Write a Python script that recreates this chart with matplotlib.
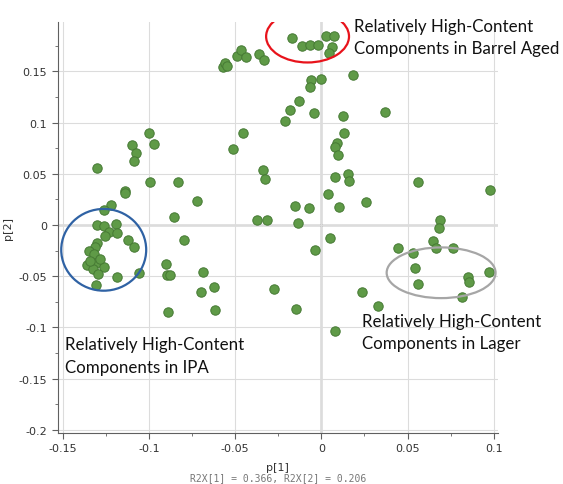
import matplotlib.pyplot as plt
from matplotlib.patches import Ellipse
from matplotlib.ticker import MultipleLocator

# PCA loadings p[1] vs p[2]
p1 = [-0.0173, -0.0114, -0.0066, -0.0017, 0.0027, 0.0075, 0.0061, 0.0045,
      -0.0573, -0.0557, -0.0549, -0.0491, -0.0466, -0.0437, -0.0363, -0.0331,
      0.0181, -0.0003, -0.0060, -0.0066, -0.0128, -0.0182, -0.0213, -0.0045,
      0.0124, 0.0369, 0.0130, 0.0092, 0.0077, 0.0094, 0.0079, 0.0157,
      0.0161, 0.0563, 0.0979, 0.0036, -0.0153, -0.0074, 0.0100, 0.0259,
      -0.0133, 0.0050, -0.0034, -0.0148, -0.0273, 0.0077, 0.0689, 0.0684,
      0.0650, 0.0665, 0.0765, 0.0443, 0.0534, 0.0546, 0.0563, 0.0853,
      0.0857, 0.0974, 0.0814, 0.0234, 0.0326,
      -0.0341, -0.0325, -0.0372, -0.0317, -0.0510, -0.0457, -0.1000, -0.0969,
      -0.1100, -0.1074, -0.1089, -0.1301, -0.0992, -0.0833, -0.1142, -0.1142,
      -0.0724, -0.1220, -0.1263, -0.0854, -0.0799, -0.0686, -0.0696, -0.0625,
      -0.0619, -0.0901, -0.0895, -0.0876, -0.0892, -0.1056, -0.1187,
      -0.1301, -0.1262, -0.1191, -0.1233, -0.1185, -0.1253, -0.1121, -0.1086,
      -0.1301, -0.1314, -0.1350, -0.1321, -0.1359, -0.1309, -0.1326, -0.1259,
      -0.1295, -0.1305, -0.1284, -0.1342]
p2 = [0.1823, 0.1750, 0.1758, 0.1758, 0.1841, 0.1841, 0.1741, 0.1683,
      0.1538, 0.1579, 0.1556, 0.1650, 0.1709, 0.1636, 0.1665, 0.1611,
      0.1460, 0.1429, 0.1413, 0.1343, 0.1206, 0.1125, 0.1011, 0.1094,
      0.1069, 0.1104, 0.0894, 0.0799, 0.0759, 0.0688, 0.0469, 0.0503,
      0.0430, 0.0420, 0.0342, 0.0303, 0.0184, 0.0166, 0.0176, 0.0223,
      0.0018, -0.0130, -0.0242, -0.0823, -0.0625, -0.1032, 0.0054, -0.0032,
      -0.0159, -0.0229, -0.0229, -0.0225, -0.0270, -0.0418, -0.0576, -0.0508,
      -0.0552, -0.0456, -0.0706, -0.0649, -0.0788,
      0.0539, 0.0451, 0.0052, 0.0052, 0.0742, 0.0903, 0.0895, 0.0793,
      0.0784, 0.0703, 0.0627, 0.0559, 0.0418, 0.0418, 0.0329, 0.0313,
      0.0232, 0.0193, 0.0149, 0.0078, -0.0148, -0.0456, -0.0649, -0.0603,
      -0.0825, -0.0381, -0.0491, -0.0483, -0.0853, -0.0471, -0.0511,
      0.0003, -0.0005, 0.0010, -0.0071, -0.0073, -0.0103, -0.0142, -0.0215,
      -0.0171, -0.0212, -0.0249, -0.0283, -0.0391, -0.0368, -0.0430, -0.0413,
      -0.0479, -0.0584, -0.0332, -0.0352]

# group highlight ellipses: (center x, center y, width, height, colour)
groups = [(-0.0080, 0.1841, 0.0481, 0.0508, "#e8131b"),
          (-0.1263, -0.0242, 0.0493, 0.0798, "#2f62a4"),
          (0.0695, -0.0466, 0.0632, 0.0495, "#a6a6a6")]
labels = ["Relatively High-Content\nComponents in Barrel Aged",
          "Relatively High-Content\nComponents in IPA",
          "Relatively High-Content\nComponents in Lager"]
label_pos = [(0.019, 0.2025), (-0.1485, -0.1085), (0.0235, -0.0855)]

fig = plt.figure(figsize=(5.63, 4.85), dpi=100)
ax = fig.add_axes([0.1025, 0.1052, 0.782, 0.848])

ax.grid(True, color="#dcdcdc", linewidth=0.8, zorder=0)
ax.axhline(0, color="#707070", linewidth=1.0, zorder=1)
ax.axvline(0, color="#707070", linewidth=1.0, zorder=1)

ax.scatter(p1, p2, s=46, color="#5f9a47", edgecolor="#467a34",
           linewidth=0.7, zorder=3)

for cx, cy, w, h, c in groups:
    ax.add_patch(Ellipse((cx, cy), w, h, fill=False, edgecolor=c,
                         linewidth=1.6, zorder=4))

for (tx, ty), t in zip(label_pos, labels):
    ax.text(tx, ty, t, fontsize=12.2, family="Lato", color="#111111",
            va="top", ha="left", linespacing=1.5, zorder=5)

ax.set_xlim(-0.153, 0.1025)
ax.set_ylim(-0.203, 0.1985)
ax.set_xticks([-0.15, -0.1, -0.05, 0, 0.05, 0.1])
ax.set_xticklabels(["-0.15", "-0.1", "-0.05", "0", "0.05", "0.1"])
ax.set_yticks([-0.2, -0.15, -0.1, -0.05, 0, 0.05, 0.1, 0.15])
ax.set_yticklabels(["-0.2", "-0.15", "-0.1", "-0.05", "0", "0.05", "0.1", "0.15"])
ax.xaxis.set_minor_locator(MultipleLocator(0.025))
ax.yaxis.set_minor_locator(MultipleLocator(0.025))
ax.tick_params(which="major", length=4, color="#606060", labelsize=8,
               labelcolor="#333333")
ax.tick_params(which="minor", length=2.5, color="#606060")

for s in ["top", "right"]:
    ax.spines[s].set_visible(False)
for s in ["left", "bottom"]:
    ax.spines[s].set_color("#606060")

ax.set_xlabel("p[1]", fontsize=8, color="#333333", labelpad=6)
ax.set_ylabel("p[2]", fontsize=8, color="#333333", labelpad=4)
fig.text(0.494, 0.003, "R2X[1] = 0.366, R2X[2] = 0.206", fontsize=7,
         family="DejaVu Sans Mono", color="#777777", ha="center", va="bottom")

fig.savefig("out.png", dpi=100)
